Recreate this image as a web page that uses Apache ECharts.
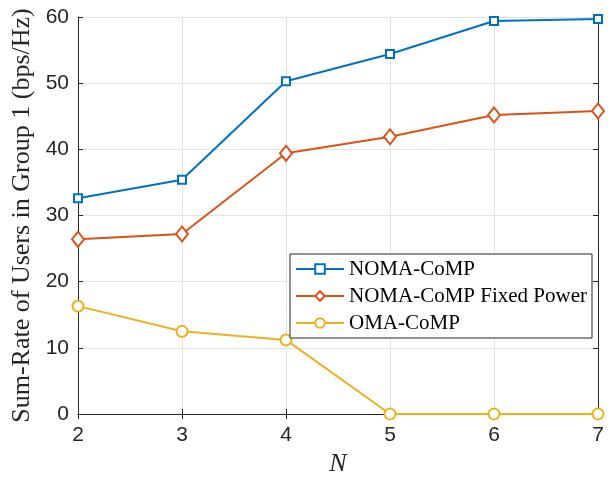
<!DOCTYPE html>
<html>
<head>
<meta charset="utf-8">
<script src="https://cdn.jsdelivr.net/npm/echarts@6/dist/echarts.min.js"></script>
<style>html,body{margin:0;padding:0;background:#fff}#c{width:616px;height:478px}</style>
</head>
<body>
<div id="c"></div>
<script>
var categories = [2, 3, 4, 5, 6, 7];
var nomaComp = [32.6, 35.4, 50.3, 54.4, 59.4, 59.7];
var nomaFixed = [26.4, 27.2, 39.4, 41.9, 45.2, 45.8];
var omaComp = [16.3, 12.5, 11.2, 0, 0, 0];
var seriesNames = ['NOMA-CoMP', 'NOMA-CoMP Fixed Power', 'OMA-CoMP'];
var yTicks = [0, 10, 20, 30, 40, 50, 60];

function pairs(arr) { return categories.map(function (x, i) { return [x, arr[i]]; }); }

var chart = echarts.init(document.getElementById('c'), null, {renderer: 'canvas'});
var axisColor = '#262626';
var sans = 'Liberation Sans, Arial, sans-serif';
var serif = 'Liberation Serif, Times New Roman, serif';
chart.setOption({
  animation: false,
  backgroundColor: '#fff',
  grid: {left: 78, right: 18, top: 17, bottom: 64, containLabel: false, outerBoundsMode: 'none'},
  legend: {
    orient: 'vertical',
    left: 290, top: 254,
    backgroundColor: '#fff',
    borderColor: '#262626', borderWidth: 1,
    padding: [4, 5, 4, 5],
    itemGap: 5,
    itemWidth: 48, itemHeight: 12,
    textStyle: {fontFamily: serif, fontSize: 21, color: '#000', lineHeight: 22},
    data: seriesNames
  },
  xAxis: [{
    type: 'value', min: 2, max: 7, interval: 1,
    name: 'N', nameLocation: 'middle', nameGap: 36,
    nameTextStyle: {fontFamily: serif, fontStyle: 'italic', fontSize: 26, color: '#262626'},
    axisLine: {show: true, lineStyle: {color: axisColor, width: 1}},
    axisTick: {show: true, inside: true, length: 5, lineStyle: {color: axisColor}},
    axisLabel: {fontFamily: sans, fontSize: 21, color: '#262626', margin: 11},
    splitLine: {show: true, lineStyle: {color: '#e3e3e3', width: 1}}
  }, {
    type: 'value', min: 2, max: 7, interval: 1, position: 'top',
    axisLine: {show: true, lineStyle: {color: axisColor, width: 1}},
    axisTick: {show: true, inside: true, length: 5, lineStyle: {color: axisColor}},
    axisLabel: {show: false}, splitLine: {show: false}
  }],
  yAxis: [{
    type: 'value', min: 0, max: 60, interval: 10,
    name: 'Sum-Rate of Users in Group 1 (bps/Hz)', nameLocation: 'middle', nameGap: 40,
    nameTextStyle: {fontFamily: serif, fontSize: 26, color: '#262626'},
    axisLine: {show: true, lineStyle: {color: axisColor, width: 1}},
    axisTick: {show: true, inside: true, length: 5, lineStyle: {color: axisColor}},
    axisLabel: {fontFamily: sans, fontSize: 21, color: '#262626', margin: 9},
    splitLine: {show: true, lineStyle: {color: '#e3e3e3', width: 1}}
  }, {
    type: 'value', min: 0, max: 60, interval: 10, position: 'right',
    axisLine: {show: true, lineStyle: {color: axisColor, width: 1}},
    axisTick: {show: true, inside: true, length: 5, lineStyle: {color: axisColor}},
    axisLabel: {show: false}, splitLine: {show: false}
  }],
  series: [{
    name: seriesNames[0], type: 'line', data: pairs(nomaComp),
    symbol: 'rect', symbolSize: 8, showAllSymbol: true,
    itemStyle: {color: '#fff', borderColor: '#0072BD', borderWidth: 2},
    lineStyle: {color: '#0072BD', width: 2}, color: '#0072BD'
  }, {
    name: seriesNames[1], type: 'line', data: pairs(nomaFixed),
    symbol: 'diamond', symbolSize: [12, 15], showAllSymbol: true,
    itemStyle: {color: '#fff', borderColor: '#D95319', borderWidth: 2},
    lineStyle: {color: '#D95319', width: 2}, color: '#D95319'
  }, {
    name: seriesNames[2], type: 'line', data: pairs(omaComp),
    symbol: 'circle', symbolSize: 11, showAllSymbol: true,
    itemStyle: {color: '#fff', borderColor: '#EDB120', borderWidth: 2},
    lineStyle: {color: '#EDB120', width: 2}, color: '#EDB120'
  }]
});
</script>
</body>
</html>
